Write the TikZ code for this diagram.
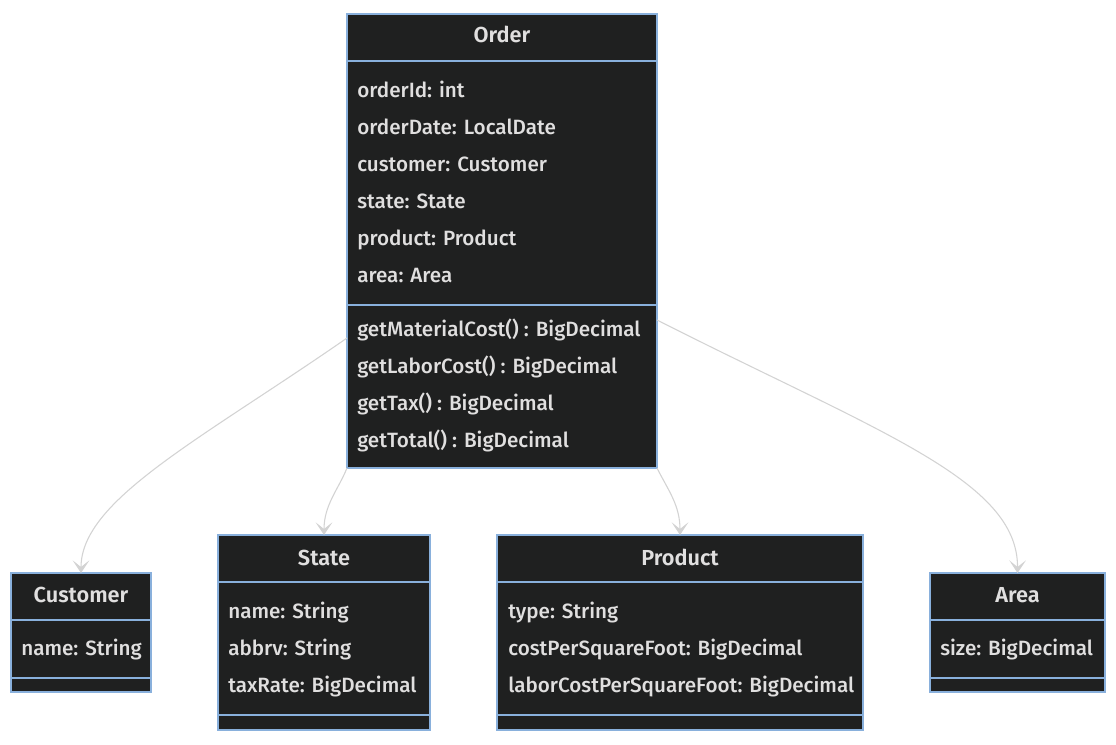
\documentclass[tikz,border=0pt]{standalone}
\usepackage{fontspec}
\setmainfont{Fira Sans}[UprightFont={* Medium},BoldFont={* SemiBold}]
\usetikzlibrary{arrows.meta}
\definecolor{boxfill}{HTML}{1F2020}
\definecolor{boxline}{HTML}{89B0DC}
\definecolor{boxtext}{HTML}{E0DFDF}
\definecolor{edgecol}{HTML}{D3D3D3}
\tikzset{
  classbox/.style={draw=boxline, fill=boxfill, line width=0.9pt, inner sep=0pt, outer sep=0pt},
  divider/.style={draw=boxline, line width=0.9pt},
  classname/.style={anchor=base, text=boxtext, inner sep=0pt, font=\bfseries\fontsize{16.3}{19}\selectfont},
  member/.style={anchor=base west, text=boxtext, inner sep=0pt, font=\fontsize{15.5}{18}\selectfont},
  assoc/.style={draw=edgecol, line width=0.8pt, -{Stealth[length=9.5pt,width=12.5pt,inset=5pt]}},
}
\begin{document}
\begin{tikzpicture}[x=0.75pt,y=-0.75pt]
  \fill[white] (0,0) rectangle (1116,744);
  \useasboundingbox (0,0) rectangle (1116,744);
  % class boxes
  \node[classbox, minimum width=232.5pt, minimum height=340.5pt] (order) at (502,241) {};
  \node[classbox, minimum width=105pt, minimum height=89.25pt] (customer) at (81,632.5) {};
  \node[classbox, minimum width=159pt, minimum height=146.25pt] (state) at (324,632.5) {};
  \node[classbox, minimum width=274.5pt, minimum height=146.25pt] (product) at (680,632.5) {};
  \node[classbox, minimum width=131.25pt, minimum height=89.25pt] (area) at (1017.5,632.5) {};
  % compartments
  \draw[divider] (order.west |- 0,61) -- (order.east |- 0,61);
  \draw[divider] (order.west |- 0,305) -- (order.east |- 0,305);
  \draw[divider] (customer.west |- 0,620) -- (customer.east |- 0,620);
  \draw[divider] (customer.west |- 0,678) -- (customer.east |- 0,678);
  \draw[divider] (state.west |- 0,582) -- (state.east |- 0,582);
  \draw[divider] (state.west |- 0,715) -- (state.east |- 0,715);
  \draw[divider] (product.west |- 0,582) -- (product.east |- 0,582);
  \draw[divider] (product.west |- 0,715) -- (product.east |- 0,715);
  \draw[divider] (area.west |- 0,620) -- (area.east |- 0,620);
  \draw[divider] (area.west |- 0,678) -- (area.east |- 0,678);
  % Order
  \node[classname] (order-name) at (502,42) {Order};
  \foreach \y/\t [count=\i] in {97/orderId: int, 134/orderDate: LocalDate,
      171/customer: Customer, 208/state: State, 245/product: Product, 282/area: Area}
    \node[member] (order-a\i) at (357,\y) {\t};
  \foreach \y/\t [count=\i] in {336/getMaterialCost() : BigDecimal,
      373/getLaborCost() : BigDecimal, 410/getTax() : BigDecimal, 447/getTotal() : BigDecimal}
    \node[member] (order-m\i) at (357,\y) {\t};
  % Customer
  \node[classname] (customer-name) at (81,602) {Customer};
  \node[member] (customer-a1) at (21,655) {name: String};
  % State
  \node[classname] (state-name) at (324,565) {State};
  \foreach \y/\t [count=\i] in {618/name: String, 655/abbrv: String, 692/taxRate: BigDecimal}
    \node[member] (state-a\i) at (228,\y) {\t};
  % Product
  \node[classname] (product-name) at (680,565) {Product};
  \foreach \y/\t [count=\i] in {618/type: String, 655/costPerSquareFoot: BigDecimal,
      692/laborCostPerSquareFoot: BigDecimal}
    \node[member] (product-a\i) at (508,\y) {\t};
  % Area
  \node[classname] (area-name) at (1017.5,602) {Area};
  \node[member] (area-a1) at (940,655) {size: BigDecimal};
  % associations
  \coordinate (order-left) at (order.west |- 0,338);
  \coordinate (order-right) at (order.east |- 0,320);
  \draw[assoc] (order-left) .. controls (200,440) and (81,500) .. (customer.north);
  \draw[assoc] (order.south west) .. controls (338,490) and (324,505) .. (state.north);
  \draw[assoc] (order.south east) .. controls (668,490) and (680,505) .. (product.north);
  \draw[assoc] (order-right) .. controls (878,432) and (1018,480) .. (area.north);
\end{tikzpicture}
\end{document}
